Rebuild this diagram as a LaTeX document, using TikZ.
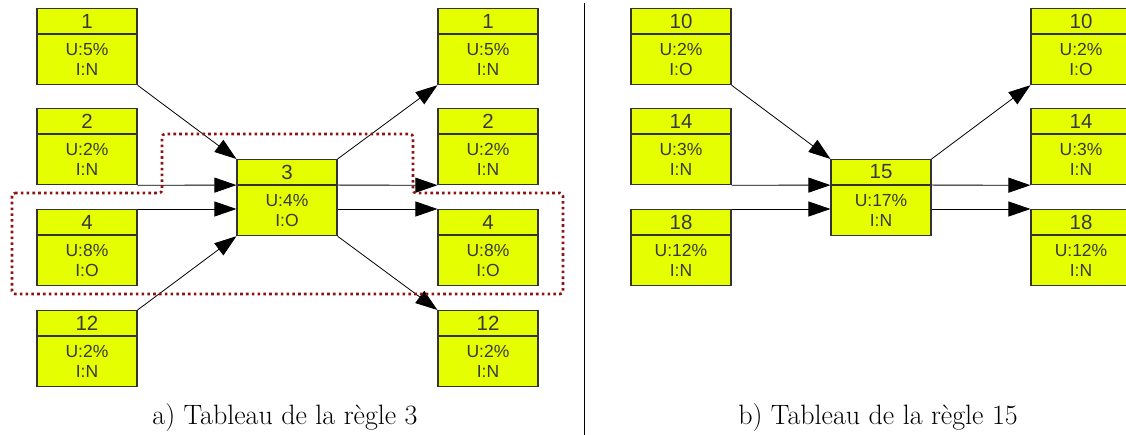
\documentclass[tikz,border=0pt]{standalone}
\usepackage{fontspec}
\newfontfamily\cellfont{Liberation Sans}
\usetikzlibrary{positioning,arrows.meta}
\begin{document}
\begin{tikzpicture}[
    x=1pt, y=-1pt,
    head/.style={draw=black!80, fill=ruleyellow, line width=1.1pt, minimum width=100pt, minimum height=25pt, inner sep=0pt, anchor=north, font=\cellfont\fontsize{20.5}{20.5}\selectfont, text=black!78},
    body/.style={draw=black!80, fill=ruleyellow, line width=1.1pt, minimum width=100pt, minimum height=50pt, inner sep=0pt, align=center, font=\cellfont\fontsize{17.5}{20}\selectfont, text=black!78},
    link/.style={-{Triangle[length=22pt, width=15pt]}, draw=black, line width=0.8pt},
    group/.style={draw=groupred, line width=2.6pt, dash pattern=on 2.6pt off 3.2pt, rounded corners=3pt},
    caption/.style={anchor=base, font=\fontsize{28}{28}\selectfont}
]
\definecolor{ruleyellow}{RGB}{229,255,0}
\definecolor{groupred}{RGB}{140,20,20}
\path[use as bounding box, clip] (0,0) rectangle (1126,435);

% a) rule 3
\node[head] (l1) at (87,8) {1};
\node[body, below=0pt of l1] (l1b) {U:5\%\\I:N};
\node[head] (l2) at (87,108) {2};
\node[body, below=0pt of l2] (l2b) {U:2\%\\I:N};
\node[head] (l4) at (87,209) {4};
\node[body, below=0pt of l4] (l4b) {U:8\%\\I:O};
\node[head] (l12) at (87,310) {12};
\node[body, below=0pt of l12] (l12b) {U:2\%\\I:N};
\node[head] (c3) at (287,159) {3};
\node[body, below=0pt of c3] (c3b) {U:4\%\\I:O};
\node[head] (r1) at (488,8) {1};
\node[body, below=0pt of r1] (r1b) {U:5\%\\I:N};
\node[head] (r2) at (488,108) {2};
\node[body, below=0pt of r2] (r2b) {U:2\%\\I:N};
\node[head] (r4) at (488,209) {4};
\node[body, below=0pt of r4] (r4b) {U:8\%\\I:O};
\node[head] (r12) at (488,310) {12};
\node[body, below=0pt of r12] (r12b) {U:2\%\\I:N};

\draw[link] (l1b.south east) -- (c3.north west);
\draw[link] (l2b.south east) -- (c3.south west);
\draw[link] (l4.north east) -- (l4.north east -| c3b.west);
\draw[link] (l12.north east) -- (c3b.south west);
\draw[link] (c3.north east) -- (r1b.south west);
\draw[link] (c3.south east) -- (r2b.south west);
\draw[link] (r4.north west -| c3b.east) -- (r4.north west);
\draw[link] (c3b.south east) -- (r12.north west);

\draw[group] (12,193) -- (162,193) -- (162,134) -- (413,134) -- (413,193) -- (563,193) -- (563,294) -- (12,294) -- cycle;

\node[caption] (capa) at (285,424) {a) Tableau de la règle 3};

\draw[line width=1pt] (584,3) -- (584,435);

% b) rule 15
\node[head] (p10) at (681,8) {10};
\node[body, below=0pt of p10] (p10b) {U:2\%\\I:O};
\node[head] (p14) at (681,108) {14};
\node[body, below=0pt of p14] (p14b) {U:3\%\\I:N};
\node[head] (p18) at (681,209) {18};
\node[body, below=0pt of p18] (p18b) {U:12\%\\I:N};
\node[head] (c15) at (881,159) {15};
\node[body, below=0pt of c15] (c15b) {U:17\%\\I:N};
\node[head] (q10) at (1081,8) {10};
\node[body, below=0pt of q10] (q10b) {U:2\%\\I:O};
\node[head] (q14) at (1081,108) {14};
\node[body, below=0pt of q14] (q14b) {U:3\%\\I:N};
\node[head] (q18) at (1081,209) {18};
\node[body, below=0pt of q18] (q18b) {U:12\%\\I:N};

\draw[link] (p10b.south east) -- (c15.north west);
\draw[link] (p14b.south east) -- (c15.south west);
\draw[link] (p18.north east) -- (p18.north east -| c15b.west);
\draw[link] (c15.north east) -- (q10b.south west);
\draw[link] (c15.south east) -- (q14b.south west);
\draw[link] (c15b.east |- q18.north west) -- (q18.north west);

\node[caption] (capb) at (878,424) {b) Tableau de la règle 15};
\end{tikzpicture}
\end{document}
